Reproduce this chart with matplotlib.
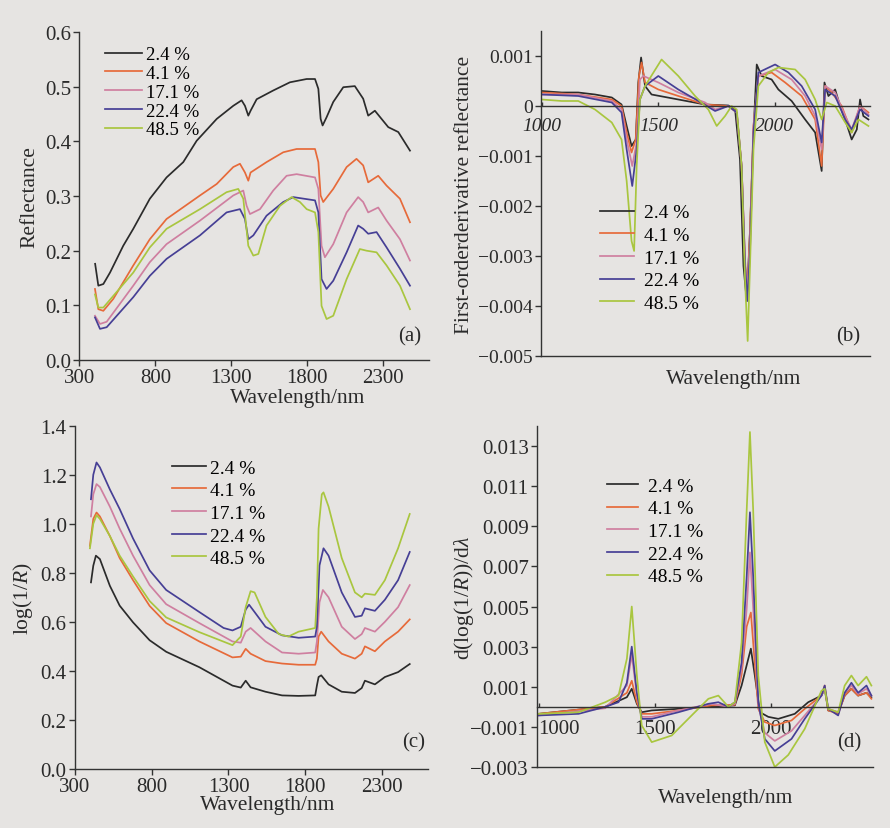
import matplotlib
matplotlib.use("Agg")
import matplotlib.pyplot as plt
from matplotlib.ticker import FuncFormatter

plt.rcParams['font.family'] = ['Liberation Serif', 'DejaVu Serif']
plt.rcParams['mathtext.fontset'] = 'custom'
plt.rcParams['mathtext.rm'] = 'Liberation Serif'
plt.rcParams['mathtext.it'] = 'Liberation Serif:italic'

labels = ["2.4 %", "4.1 %", "17.1 %", "22.4 %", "48.5 %"]
colors = ["#2b2b2b", "#e66a3a", "#cf7fa0", "#463f95", "#a9c63f"]

# ---------------- (a) Reflectance ----------------
a_wl_k = [403, 424, 457, 501, 588, 654, 763, 873, 983, 1071, 1203, 1312, 1367, 1389, 1411, 1426, 1466, 1575, 1685, 1795, 1850, 1872, 1887, 1900, 1926, 1970, 2036, 2112, 2167, 2200, 2244, 2288, 2332, 2398, 2475]
a_k = [0.176, 0.136, 0.139, 0.160, 0.209, 0.240, 0.295, 0.334, 0.362, 0.401, 0.441, 0.465, 0.475, 0.465, 0.447, 0.456, 0.477, 0.493, 0.508, 0.514, 0.514, 0.496, 0.441, 0.429, 0.444, 0.472, 0.499, 0.501, 0.478, 0.447, 0.456, 0.441, 0.426, 0.417, 0.383]
a_wl_o = [402, 424, 457, 523, 654, 763, 873, 1093, 1203, 1312, 1356, 1389, 1411, 1426, 1531, 1641, 1729, 1850, 1872, 1887, 1904, 1970, 2058, 2123, 2167, 2200, 2266, 2321, 2409, 2475]
a_o = [0.130, 0.093, 0.090, 0.112, 0.173, 0.221, 0.258, 0.301, 0.322, 0.353, 0.359, 0.343, 0.328, 0.343, 0.362, 0.380, 0.386, 0.386, 0.362, 0.301, 0.289, 0.313, 0.353, 0.368, 0.356, 0.325, 0.337, 0.319, 0.295, 0.252]
a_wl_p = [402, 435, 479, 654, 763, 873, 1093, 1312, 1378, 1400, 1422, 1488, 1575, 1663, 1729, 1850, 1872, 1893, 1915, 1970, 2058, 2134, 2167, 2200, 2266, 2321, 2409, 2475]
a_p = [0.081, 0.066, 0.070, 0.136, 0.179, 0.212, 0.255, 0.301, 0.310, 0.282, 0.267, 0.276, 0.310, 0.337, 0.340, 0.334, 0.313, 0.209, 0.188, 0.212, 0.270, 0.298, 0.289, 0.270, 0.279, 0.255, 0.221, 0.182]
a_wl_b = [402, 435, 479, 654, 763, 873, 1093, 1268, 1356, 1389, 1411, 1444, 1531, 1641, 1707, 1850, 1872, 1893, 1926, 1970, 2058, 2134, 2167, 2200, 2255, 2321, 2409, 2475]
a_b = [0.078, 0.057, 0.060, 0.115, 0.154, 0.185, 0.228, 0.270, 0.276, 0.258, 0.221, 0.228, 0.264, 0.289, 0.298, 0.292, 0.270, 0.148, 0.130, 0.145, 0.197, 0.246, 0.240, 0.231, 0.234, 0.206, 0.167, 0.136]
a_wl_g = [402, 424, 457, 654, 763, 873, 1093, 1268, 1345, 1378, 1411, 1444, 1477, 1531, 1619, 1696, 1751, 1795, 1850, 1872, 1893, 1926, 1970, 2058, 2145, 2189, 2255, 2321, 2409, 2475]
a_g = [0.120, 0.096, 0.096, 0.160, 0.206, 0.240, 0.276, 0.307, 0.313, 0.295, 0.209, 0.191, 0.194, 0.246, 0.282, 0.298, 0.289, 0.276, 0.270, 0.234, 0.099, 0.075, 0.081, 0.148, 0.203, 0.200, 0.197, 0.173, 0.136, 0.093]

# ---------------- (b) First-order derivative reflectance ----------------
b_wl_k = [999, 1085, 1156, 1228, 1300, 1342, 1364, 1385, 1403, 1414, 1426, 1443, 1471, 1586, 1701, 1801, 1830, 1851, 1866, 1880, 1894, 1909, 1923, 1944, 1987, 2016, 2073, 2131, 2174, 2202, 2214, 2231, 2260, 2281, 2303, 2331, 2353, 2367, 2381, 2403]
b_k = [0.00030, 0.00027, 0.00027, 0.00023, 0.00017, 0.00003, -0.00040, -0.00080, -0.00067, 0.00047, 0.00097, 0.00040, 0.00023, 0.00013, 0.00003, 0.00001, -0.00007, -0.00107, -0.00320, -0.00390, -0.00250, -0.00053, 0.00083, 0.00060, 0.00053, 0.00033, 0.00010, -0.00027, -0.00053, -0.00130, 0.00047, 0.00020, 0.00033, 0.00000, -0.00027, -0.00067, -0.00047, 0.00013, -0.00020, -0.00027]
b_wl_o = [999, 1156, 1300, 1342, 1364, 1385, 1403, 1417, 1428, 1443, 1500, 1586, 1701, 1801, 1837, 1858, 1873, 1883, 1894, 1909, 1930, 1987, 2045, 2116, 2174, 2202, 2217, 2245, 2288, 2331, 2367, 2403]
b_o = [0.00027, 0.00023, 0.00013, 0.00000, -0.00053, -0.00093, -0.00067, 0.00060, 0.00087, 0.00047, 0.00033, 0.00020, 0.00003, 0.00000, -0.00013, -0.00120, -0.00320, -0.00370, -0.00250, -0.00040, 0.00060, 0.00067, 0.00047, 0.00020, -0.00027, -0.00120, 0.00040, 0.00027, 0.00000, -0.00053, 0.00000, -0.00013]
b_wl_p = [999, 1156, 1300, 1342, 1364, 1388, 1407, 1421, 1436, 1500, 1586, 1701, 1744, 1801, 1837, 1858, 1873, 1883, 1894, 1909, 1930, 2002, 2073, 2131, 2174, 2202, 2217, 2260, 2303, 2331, 2367, 2403]
b_p = [0.00023, 0.00023, 0.00010, -0.00007, -0.00067, -0.00120, -0.00073, 0.00053, 0.00060, 0.00047, 0.00027, 0.00007, -0.00007, 0.00000, -0.00013, -0.00120, -0.00310, -0.00370, -0.00270, -0.00040, 0.00060, 0.00073, 0.00053, 0.00020, -0.00020, -0.00087, 0.00040, 0.00027, -0.00020, -0.00047, 0.00000, -0.00017]
b_wl_b = [999, 1156, 1300, 1342, 1364, 1388, 1407, 1421, 1443, 1500, 1586, 1672, 1744, 1801, 1837, 1858, 1873, 1883, 1894, 1909, 1930, 2002, 2059, 2116, 2174, 2202, 2217, 2260, 2303, 2331, 2367, 2403]
b_b = [0.00023, 0.00020, 0.00007, -0.00013, -0.00087, -0.00160, -0.00087, 0.00013, 0.00040, 0.00060, 0.00033, 0.00010, -0.00010, 0.00000, -0.00013, -0.00120, -0.00320, -0.00390, -0.00290, -0.00053, 0.00067, 0.00083, 0.00067, 0.00040, -0.00007, -0.00073, 0.00033, 0.00020, -0.00027, -0.00047, -0.00007, -0.00020]
b_wl_g = [999, 1085, 1156, 1228, 1300, 1342, 1364, 1385, 1396, 1407, 1421, 1443, 1514, 1586, 1658, 1715, 1751, 1787, 1815, 1837, 1858, 1873, 1884, 1894, 1909, 1930, 1973, 2016, 2088, 2131, 2174, 2202, 2224, 2260, 2303, 2331, 2360, 2403]
b_g = [0.00013, 0.00010, 0.00010, -0.00007, -0.00033, -0.00067, -0.00150, -0.00270, -0.00290, -0.00120, 0.00013, 0.00040, 0.00093, 0.00060, 0.00020, -0.00007, -0.00040, -0.00020, 0.00000, -0.00007, -0.00120, -0.00350, -0.00470, -0.00320, -0.00087, 0.00040, 0.00067, 0.00077, 0.00073, 0.00053, 0.00013, -0.00027, 0.00007, 0.00000, -0.00033, -0.00053, -0.00027, -0.00040]

# ---------------- (c) log(1/R) ----------------
c_wl_k = [404, 419, 436, 462, 527, 591, 678, 786, 894, 1110, 1326, 1380, 1412, 1444, 1541, 1649, 1757, 1865, 1876, 1887, 1904, 1952, 2038, 2124, 2168, 2189, 2254, 2319, 2405, 2481]
c_k = [0.761, 0.829, 0.870, 0.856, 0.747, 0.666, 0.598, 0.525, 0.478, 0.415, 0.340, 0.332, 0.360, 0.333, 0.315, 0.300, 0.298, 0.300, 0.340, 0.375, 0.382, 0.345, 0.315, 0.310, 0.330, 0.360, 0.345, 0.375, 0.395, 0.428]
c_wl_o = [397, 419, 440, 462, 527, 591, 678, 786, 894, 1110, 1326, 1380, 1412, 1444, 1541, 1649, 1757, 1865, 1876, 1887, 1904, 1952, 2038, 2124, 2168, 2189, 2254, 2319, 2405, 2481]
c_o = [0.910, 1.020, 1.046, 1.030, 0.950, 0.860, 0.770, 0.665, 0.595, 0.520, 0.455, 0.458, 0.490, 0.470, 0.440, 0.430, 0.425, 0.425, 0.450, 0.540, 0.560, 0.520, 0.470, 0.450, 0.470, 0.500, 0.480, 0.520, 0.560, 0.610]
c_wl_p = [404, 419, 440, 462, 527, 591, 678, 786, 894, 1110, 1326, 1380, 1412, 1444, 1541, 1649, 1757, 1865, 1876, 1893, 1915, 1952, 2038, 2124, 2168, 2189, 2254, 2319, 2405, 2481]
c_p = [1.030, 1.120, 1.162, 1.150, 1.070, 0.980, 0.870, 0.750, 0.672, 0.595, 0.520, 0.515, 0.560, 0.575, 0.520, 0.475, 0.470, 0.475, 0.520, 0.680, 0.730, 0.700, 0.580, 0.530, 0.550, 0.575, 0.560, 0.600, 0.660, 0.750]
c_wl_b = [404, 419, 440, 462, 527, 591, 678, 786, 894, 1110, 1268, 1326, 1380, 1412, 1434, 1470, 1541, 1649, 1757, 1865, 1876, 1893, 1919, 1952, 2038, 2124, 2168, 2189, 2254, 2319, 2405, 2481]
c_b = [1.100, 1.200, 1.250, 1.230, 1.140, 1.060, 0.940, 0.810, 0.730, 0.640, 0.575, 0.565, 0.580, 0.650, 0.670, 0.640, 0.580, 0.545, 0.535, 0.540, 0.580, 0.830, 0.900, 0.870, 0.720, 0.620, 0.625, 0.655, 0.645, 0.690, 0.770, 0.885]
c_wl_g = [397, 419, 440, 462, 527, 591, 678, 786, 894, 1110, 1326, 1380, 1412, 1444, 1470, 1541, 1628, 1690, 1757, 1865, 1876, 1887, 1908, 1919, 1952, 2038, 2124, 2168, 2189, 2254, 2319, 2405, 2481]
c_g = [0.900, 1.000, 1.035, 1.020, 0.950, 0.870, 0.785, 0.685, 0.618, 0.558, 0.505, 0.540, 0.660, 0.725, 0.720, 0.620, 0.550, 0.540, 0.560, 0.575, 0.700, 0.980, 1.120, 1.128, 1.070, 0.860, 0.720, 0.700, 0.715, 0.710, 0.770, 0.900, 1.040]

# ---------------- (d) d(log(1/R))/dlambda ----------------
d_wl_k = [1000, 1287, 1380, 1401, 1423, 1444, 1487, 1602, 1745, 1845, 1874, 1903, 1914, 1931, 1953, 1989, 2032, 2103, 2161, 2218, 2232, 2247, 2290, 2318, 2347, 2376, 2412, 2433]
d_k = [-0.00035, 0.00000, 0.00048, 0.00090, 0.00015, -0.00027, -0.00018, -0.00010, 0.00002, 0.00007, 0.00106, 0.00240, 0.00290, 0.00156, -0.00027, -0.00050, -0.00060, -0.00035, 0.00023, 0.00056, 0.00090, -0.00018, -0.00027, 0.00056, 0.00090, 0.00056, 0.00070, 0.00048]
d_wl_o = [1000, 1287, 1380, 1401, 1423, 1444, 1487, 1602, 1745, 1845, 1874, 1896, 1914, 1924, 1946, 1974, 2017, 2089, 2146, 2218, 2232, 2247, 2290, 2318, 2347, 2376, 2412, 2433]
d_o = [-0.00035, 0.00000, 0.00070, 0.00130, 0.00023, -0.00035, -0.00035, -0.00018, 0.00007, 0.00010, 0.00160, 0.00400, 0.00470, 0.00320, -0.00010, -0.00076, -0.00093, -0.00068, -0.00010, 0.00056, 0.00106, -0.00018, -0.00035, 0.00056, 0.00090, 0.00056, 0.00070, 0.00040]
d_wl_p = [1000, 1287, 1380, 1401, 1423, 1444, 1487, 1602, 1745, 1817, 1845, 1874, 1896, 1910, 1924, 1946, 1974, 2017, 2089, 2146, 2218, 2232, 2247, 2290, 2318, 2347, 2376, 2412, 2433]
d_p = [-0.00043, -0.00007, 0.00106, 0.00260, 0.00056, -0.00050, -0.00050, -0.00018, 0.00015, 0.00000, 0.00015, 0.00190, 0.00490, 0.00770, 0.00490, 0.00007, -0.00130, -0.00170, -0.00120, -0.00043, 0.00056, 0.00090, -0.00010, -0.00027, 0.00070, 0.00106, 0.00065, 0.00090, 0.00056]
d_wl_b = [1000, 1172, 1287, 1344, 1380, 1401, 1423, 1444, 1487, 1602, 1731, 1774, 1817, 1845, 1874, 1896, 1910, 1924, 1946, 1974, 2017, 2089, 2146, 2218, 2232, 2247, 2290, 2318, 2347, 2376, 2412, 2433]
d_b = [-0.00043, -0.00035, 0.00000, 0.00023, 0.00120, 0.00300, 0.00070, -0.00060, -0.00060, -0.00027, 0.00015, 0.00023, 0.00000, 0.00023, 0.00220, 0.00650, 0.00970, 0.00650, 0.00023, -0.00160, -0.00220, -0.00160, -0.00060, 0.00056, 0.00106, -0.00010, -0.00043, 0.00070, 0.00120, 0.00070, 0.00106, 0.00056]
d_wl_g = [1000, 1172, 1287, 1344, 1380, 1401, 1423, 1444, 1487, 1573, 1659, 1731, 1774, 1817, 1845, 1874, 1896, 1910, 1924, 1946, 1974, 2017, 2075, 2146, 2218, 2232, 2247, 2290, 2318, 2347, 2376, 2412, 2433]
d_g = [-0.00035, -0.00027, 0.00023, 0.00056, 0.00240, 0.00500, 0.00156, -0.00093, -0.00176, -0.00143, -0.00043, 0.00040, 0.00056, 0.00000, 0.00023, 0.00320, 0.00980, 0.01370, 0.00980, 0.00156, -0.00176, -0.00300, -0.00240, -0.00110, 0.00080, 0.00090, -0.00010, -0.00027, 0.00106, 0.00156, 0.00106, 0.00150, 0.00106]

BG = "#e6e4e2"
AX = "#333333"
TX = "#2a2a2a"

fig = plt.figure(figsize=(8.9, 8.29), dpi=100, facecolor=BG)

def style(ax, fs=15):
    ax.set_facecolor("none")
    for s in ("top", "right"):
        ax.spines[s].set_visible(False)
    for s in ("left", "bottom"):
        ax.spines[s].set_color(AX)
        ax.spines[s].set_linewidth(1.0)
    ax.tick_params(colors=AX, labelcolor=TX, labelsize=fs, direction="out", length=4, width=1.0, pad=2)

def minus_fmt(v, pos):
    if abs(v) < 1e-12:
        return "0"
    return ("%.3f" % v).replace("-", "\u2212")

LW = 1.25

# (a)
axa = fig.add_axes([0.0893, 0.5645, 0.3927, 0.3957])
style(axa)
for wl, v, c, l in zip([a_wl_k, a_wl_o, a_wl_p, a_wl_b, a_wl_g], [a_k, a_o, a_p, a_b, a_g], colors, labels):
    axa.plot(wl, v, color=c, lw=LW, label=l)
axa.set_xlim(300, 2600)
axa.set_ylim(0, 0.6)
axa.set_xticks([300, 800, 1300, 1800, 2300])
axa.set_yticks([0, 0.1, 0.2, 0.3, 0.4, 0.5, 0.6])
axa.yaxis.set_major_formatter(FuncFormatter(lambda v, p: "%.1f" % v))
axa.set_ylabel("Reflectance", fontsize=15.5, color=TX, labelpad=4)
axa.set_xlabel("Wavelength/nm", fontsize=15.5, color=TX)
axa.xaxis.set_label_coords(0.625, -0.085)
axa.text(0.946, 0.073, "(a)", transform=axa.transAxes, fontsize=15, ha="center", va="center", color=TX)
axa.legend(loc="upper left", bbox_to_anchor=(0.073, 0.957), frameon=False, fontsize=13.5,
           handlelength=2.0, handletextpad=0.2, labelspacing=0.09, borderpad=0, borderaxespad=0)

# (b)
axb = fig.add_axes([0.6079, 0.5694, 0.3697, 0.392])
style(axb, 14)
for wl, v, c, l in zip([b_wl_k, b_wl_o, b_wl_p, b_wl_b, b_wl_g], [b_k, b_o, b_p, b_b, b_g], colors, labels):
    axb.plot(wl, v, color=c, lw=LW, label=l)
axb.set_xlim(996, 2410)
axb.set_ylim(-0.005, 0.0015)
axb.spines["bottom"].set_position(("data", 0))
axb.axhline(-0.005, color=AX, lw=1.0, clip_on=False)
axb.set_xticks([1000, 1500, 2000])
axb.tick_params(axis="x", direction="in", length=3, pad=8)
for t in axb.get_xticklabels():
    t.set_fontstyle("italic")
axb.set_yticks([-0.005, -0.004, -0.003, -0.002, -0.001, 0, 0.001])
axb.yaxis.set_major_formatter(FuncFormatter(minus_fmt))
axb.set_ylabel("First-orderderivative reflectance", fontsize=15.5, color=TX, labelpad=3)
axb.set_xlabel("Wavelength/nm", fontsize=15.5, color=TX)
axb.xaxis.set_label_coords(0.584, -0.04)
axb.text(0.933, 0.062, "(b)", transform=axb.transAxes, fontsize=15, ha="center", va="center", color=TX)
axb.legend(loc="upper left", bbox_to_anchor=(0.179, 0.468), frameon=False, fontsize=14,
           handlelength=1.75, handletextpad=0.5, labelspacing=0.26, borderpad=0, borderaxespad=0)

# (c)
axc = fig.add_axes([0.0843, 0.0712, 0.3966, 0.4141])
style(axc)
for wl, v, c, l in zip([c_wl_k, c_wl_o, c_wl_p, c_wl_b, c_wl_g], [c_k, c_o, c_p, c_b, c_g], colors, labels):
    axc.plot(wl, v, color=c, lw=LW, label=l)
axc.set_xlim(300, 2600)
axc.set_ylim(0, 1.4)
axc.set_xticks([300, 800, 1300, 1800, 2300])
axc.set_yticks([0, 0.2, 0.4, 0.6, 0.8, 1.0, 1.2, 1.4])
axc.yaxis.set_major_formatter(FuncFormatter(lambda v, p: "%.1f" % v))
axc.set_ylabel("log(1/$R$)", fontsize=15.5, color=TX, labelpad=4)
axc.set_xlabel("Wavelength/nm", fontsize=15.5, color=TX)
axc.xaxis.set_label_coords(0.547, -0.075)
axc.text(0.958, 0.079, "(c)", transform=axc.transAxes, fontsize=15, ha="center", va="center", color=TX)
axc.legend(loc="upper left", bbox_to_anchor=(0.275, 0.903), frameon=False, fontsize=14,
           handlelength=1.75, handletextpad=0.2, labelspacing=0.26, borderpad=0, borderaxespad=0)

# (d)
axd = fig.add_axes([0.6034, 0.0736, 0.3775, 0.4113])
style(axd)
for wl, v, c, l in zip([d_wl_k, d_wl_o, d_wl_p, d_wl_b, d_wl_g], [d_k, d_o, d_p, d_b, d_g], colors, labels):
    axd.plot(wl, v, color=c, lw=LW, label=l)
axd.set_xlim(993, 2440)
axd.set_ylim(-0.003, 0.014)
axd.spines["bottom"].set_position(("data", 0))
axd.axhline(-0.003, color=AX, lw=1.0, clip_on=False)
axd.set_xticks([1000, 1500, 2000])
axd.tick_params(axis="x", direction="in", length=3, pad=9)
xtl = axd.get_xticklabels()
xtl[0].set_horizontalalignment("left")
axd.set_yticks([-0.003, -0.001, 0.001, 0.003, 0.005, 0.007, 0.009, 0.011, 0.013])
axd.yaxis.set_major_formatter(FuncFormatter(minus_fmt))
axd.set_ylabel("d(log(1/$R$))/d$\\lambda$", fontsize=15.5, color=TX, labelpad=-4)
axd.set_xlabel("Wavelength/nm", fontsize=15.5, color=TX)
axd.xaxis.set_label_coords(0.56, -0.062)
axd.text(0.93, 0.073, "(d)", transform=axd.transAxes, fontsize=15, ha="center", va="center", color=TX)
axd.legend(loc="upper left", bbox_to_anchor=(0.208, 0.850), frameon=False, fontsize=14,
           handlelength=1.6, handletextpad=0.5, labelspacing=0.26, borderpad=0, borderaxespad=0)

fig.savefig("out.png", dpi=100, facecolor=BG)
